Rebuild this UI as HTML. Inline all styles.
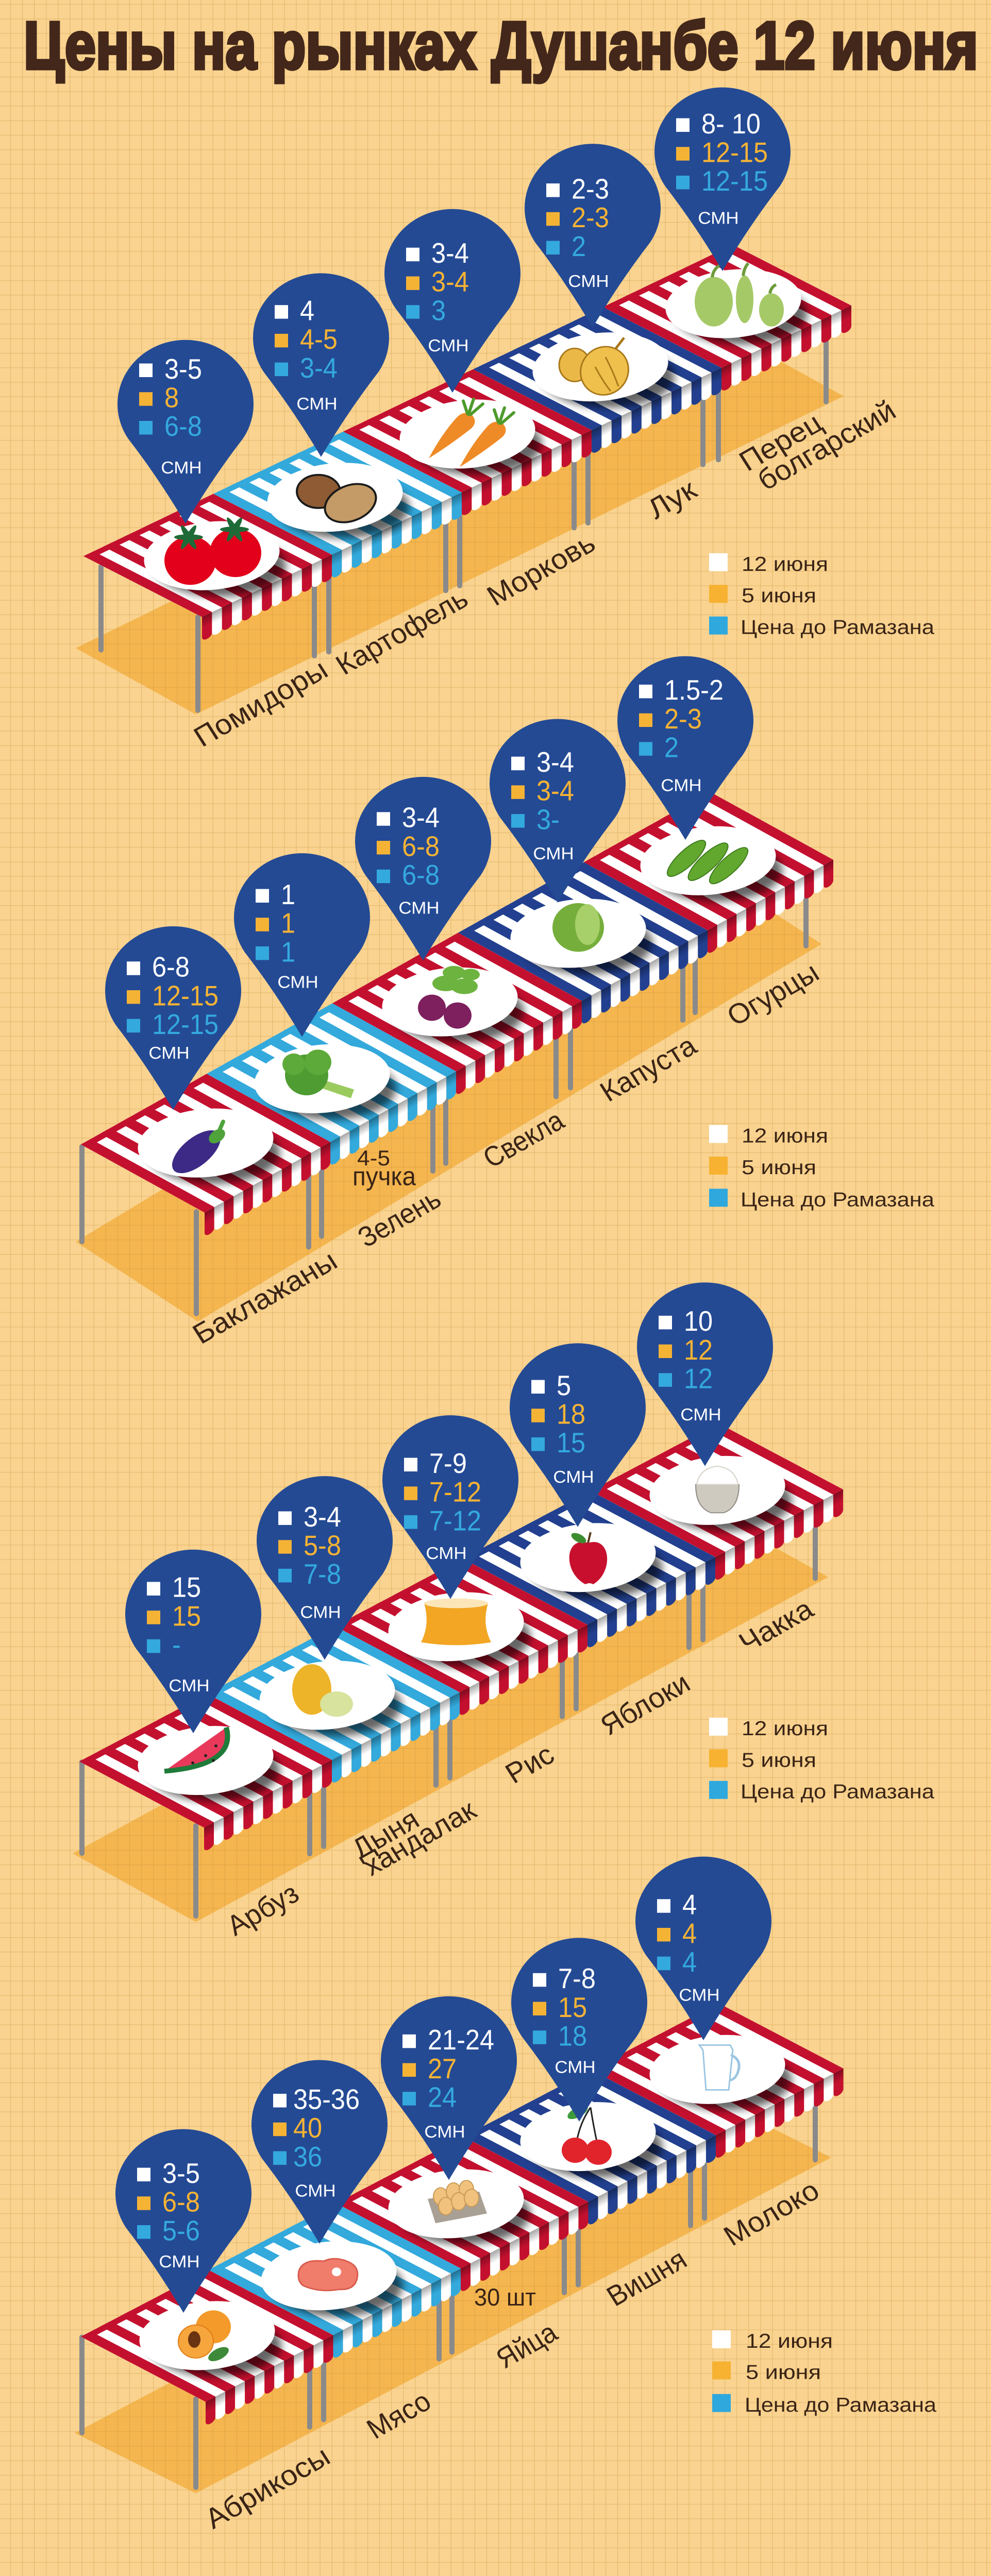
<!DOCTYPE html>
<html><head><meta charset="utf-8"><title>Цены на рынках Душанбе 12 июня</title>
<style>html,body{margin:0;padding:0;background:#F9D38F;width:100%;height:100%;overflow:hidden}svg{display:block;width:100vw;height:100vh}</style></head>
<body>
<svg xmlns="http://www.w3.org/2000/svg" viewBox="0 0 1923 5294" preserveAspectRatio="none" font-family="'Liberation Sans', sans-serif">
<defs>
 <pattern id="grid" x="19.8" y="8.3" width="23.1" height="29.87" patternUnits="userSpaceOnUse">
  <rect x="0" y="0" width="1.3" height="29.87" fill="#C58A3A" fill-opacity="0.33"/>
  <rect x="0" y="0" width="23.1" height="1.3" fill="#C58A3A" fill-opacity="0.33"/>
 </pattern>
 <filter id="blur" x="-40%" y="-40%" width="180%" height="180%"><feGaussianBlur stdDeviation="8"/></filter>
 <linearGradient id="dsh" x1="0" y1="0" x2="0" y2="1"><stop offset="0" stop-color="#000" stop-opacity="0.35"/><stop offset="1" stop-color="#000" stop-opacity="0"/></linearGradient>
 <g id="top">
  <rect width="1" height="1" fill="#fff"/>
  <rect x="0" width="0.078" height="1" fill="currentColor"/>
  <rect x="0.15385" width="0.078" height="1" fill="currentColor"/>
  <rect x="0.30769" width="0.078" height="1" fill="currentColor"/>
  <rect x="0.46154" width="0.078" height="1" fill="currentColor"/>
  <rect x="0.61538" width="0.078" height="1" fill="currentColor"/>
  <rect x="0.76923" width="0.078" height="1" fill="currentColor"/>
  <rect x="0.92308" width="0.07692" height="1" fill="currentColor"/>
  <rect width="1" height="0.05" fill="currentColor"/>
 </g>
 <g id="drape">
  <path d="M0,0H0.07692V42A0.03846,8,0,0,1,0,42Z" fill="currentColor"/>
  <path d="M0.07692,0H0.15385V42A0.03846,8,0,0,1,0.07692,42Z" fill="#fff"/>
  <path d="M0.15385,0H0.23077V42A0.03846,8,0,0,1,0.15385,42Z" fill="currentColor"/>
  <path d="M0.23077,0H0.30769V42A0.03846,8,0,0,1,0.23077,42Z" fill="#fff"/>
  <path d="M0.30769,0H0.38462V42A0.03846,8,0,0,1,0.30769,42Z" fill="currentColor"/>
  <path d="M0.38462,0H0.46154V42A0.03846,8,0,0,1,0.38462,42Z" fill="#fff"/>
  <path d="M0.46154,0H0.53846V42A0.03846,8,0,0,1,0.46154,42Z" fill="currentColor"/>
  <path d="M0.53846,0H0.61538V42A0.03846,8,0,0,1,0.53846,42Z" fill="#fff"/>
  <path d="M0.61538,0H0.69231V42A0.03846,8,0,0,1,0.61538,42Z" fill="currentColor"/>
  <path d="M0.69231,0H0.76923V42A0.03846,8,0,0,1,0.69231,42Z" fill="#fff"/>
  <path d="M0.76923,0H0.84615V42A0.03846,8,0,0,1,0.76923,42Z" fill="currentColor"/>
  <path d="M0.84615,0H0.92308V42A0.03846,8,0,0,1,0.84615,42Z" fill="#fff"/>
  <path d="M0.92308,0H1V42A0.03846,8,0,0,1,0.92308,42Z" fill="currentColor"/>
  <rect width="1" height="24" fill="url(#dsh)"/>
 </g>
 <path id="pin" d="M0,245 Q-52,152 -111,71 A132,132 0 1 1 111,71 Q52,152 0,245Z" fill="#244A94"/>
 <g id="plate">
  <ellipse cx="16" cy="20" rx="128" ry="64" fill="#000" opacity="0.6" filter="url(#blur)"/>
  <ellipse cx="0" cy="0" rx="132" ry="70" transform="rotate(-6)" fill="#fff"/>
 </g>
</defs>

<rect width="1923" height="5294" fill="#F9D38F"/>

<!-- floors -->
<g fill="#F5B64F">
 <polygon points="147,1332 380,1468 1637,814 1404,678"/>
 <polygon points="147,2552 384,2716 1594,1940 1357,1776"/>
 <polygon points="141,3809 380,3950 1607,3241 1368,3100"/>
 <polygon points="145,5000 380,5124 1613,4434 1378,4310"/>
</g>

<rect width="1923" height="5294" fill="url(#grid)"/>

<!-- title -->
<text x="46" y="141" font-size="138" font-weight="bold" fill="#43271A" stroke="#43271A" stroke-width="7" textLength="1852" lengthAdjust="spacingAndGlyphs">Цены на рынках Душанбе 12 июня</text>

<!-- legs -->
<g stroke="#8A8A8A" stroke-width="10" stroke-linecap="round" fill="none">
 <path d="M196,1164V1336 M384,1268V1460 M610,1168V1348 M638,1160V1340 M865,1034V1214 M892,1024V1204 M1114,905V1085 M1141,895V1075 M1364,775V955 M1394,765V945 M1603,646V826"/>
 <path d="M159,2356V2552 M381,2490V2700 M599,2383V2563 M624,2361V2541 M840,2227V2407 M865,2211V2391 M1079,2074V2254 M1107,2056V2236 M1325,1917V2097 M1349,1901V2081 M1564,1764V1944"/>
 <path d="M159,3621V3809 M380,3752V3938 M601,3630V3810 M628,3615V3795 M846,3489V3669 M873,3474V3654 M1091,3348V3528 M1118,3332V3512 M1337,3206V3386 M1364,3190V3370 M1582,3064V3244"/>
 <path d="M159,4803V5000 M380,4930V5112 M601,4808V4988 M628,4793V4973 M852,4668V4848 M877,4654V4834 M1095,4532V4712 M1122,4516V4696 M1340,4394V4574 M1367,4379V4559 M1582,4259V4439"/>
</g>

<!-- Section 1 tables -->
<use href="#top" transform="matrix(252,-128,230,125,1170,631)" style="color:#C4102F"/>
<use href="#drape" transform="matrix(252,-128,0,1,1400,756)" style="color:#C4102F"/>
<use href="#top" transform="matrix(252,-128,230,125,918,759)" style="color:#22408F"/>
<use href="#drape" transform="matrix(252,-128,0,1,1148,884)" style="color:#22408F"/>
<use href="#top" transform="matrix(252,-128,230,125,666,887)" style="color:#C4102F"/>
<use href="#drape" transform="matrix(252,-128,0,1,896,1012)" style="color:#C4102F"/>
<use href="#top" transform="matrix(252,-128,230,125,414,1015)" style="color:#33A9DC"/>
<use href="#drape" transform="matrix(252,-128,0,1,644,1140)" style="color:#33A9DC"/>
<use href="#top" transform="matrix(252,-128,230,125,162,1143)" style="color:#C4102F"/>
<use href="#drape" transform="matrix(252,-128,0,1,392,1268)" style="color:#C4102F"/>

<!-- Section 2 tables -->
<use href="#top" transform="matrix(244,-145,240,140,1133,1772)" style="color:#C4102F"/>
<use href="#drape" transform="matrix(244,-145,0,1,1373,1912)" style="color:#C4102F"/>
<use href="#top" transform="matrix(244,-145,240,140,889,1917)" style="color:#22408F"/>
<use href="#drape" transform="matrix(244,-145,0,1,1129,2057)" style="color:#22408F"/>
<use href="#top" transform="matrix(244,-145,240,140,645,2062)" style="color:#C4102F"/>
<use href="#drape" transform="matrix(244,-145,0,1,885,2202)" style="color:#C4102F"/>
<use href="#top" transform="matrix(244,-145,240,140,401,2207)" style="color:#33A9DC"/>
<use href="#drape" transform="matrix(244,-145,0,1,641,2347)" style="color:#33A9DC"/>
<use href="#top" transform="matrix(244,-145,240,140,157,2352)" style="color:#C4102F"/>
<use href="#drape" transform="matrix(244,-145,0,1,397,2492)" style="color:#C4102F"/>

<!-- Section 3 tables -->
<use href="#top" transform="matrix(248,-139,242,136,1146,3064)" style="color:#C4102F"/>
<use href="#drape" transform="matrix(248,-139,0,1,1388,3200)" style="color:#C4102F"/>
<use href="#top" transform="matrix(248,-139,242,136,898,3203)" style="color:#22408F"/>
<use href="#drape" transform="matrix(248,-139,0,1,1140,3339)" style="color:#22408F"/>
<use href="#top" transform="matrix(248,-139,242,136,650,3342)" style="color:#C4102F"/>
<use href="#drape" transform="matrix(248,-139,0,1,892,3478)" style="color:#C4102F"/>
<use href="#top" transform="matrix(248,-139,242,136,402,3481)" style="color:#33A9DC"/>
<use href="#drape" transform="matrix(248,-139,0,1,644,3617)" style="color:#33A9DC"/>
<use href="#top" transform="matrix(248,-139,242,136,154,3620)" style="color:#C4102F"/>
<use href="#drape" transform="matrix(248,-139,0,1,396,3756)" style="color:#C4102F"/>

<!-- Section 4 tables -->
<use href="#top" transform="matrix(247.5,-137,242,134,1147,4254)" style="color:#C4102F"/>
<use href="#drape" transform="matrix(247.5,-137,0,1,1389,4388)" style="color:#C4102F"/>
<use href="#top" transform="matrix(247.5,-137,242,134,899.5,4391)" style="color:#22408F"/>
<use href="#drape" transform="matrix(247.5,-137,0,1,1141.5,4525)" style="color:#22408F"/>
<use href="#top" transform="matrix(247.5,-137,242,134,652,4528)" style="color:#C4102F"/>
<use href="#drape" transform="matrix(247.5,-137,0,1,894,4662)" style="color:#C4102F"/>
<use href="#top" transform="matrix(247.5,-137,242,134,404.5,4665)" style="color:#33A9DC"/>
<use href="#drape" transform="matrix(247.5,-137,0,1,646.5,4799)" style="color:#33A9DC"/>
<use href="#top" transform="matrix(247.5,-137,242,134,157,4802)" style="color:#C4102F"/>
<use href="#drape" transform="matrix(247.5,-137,0,1,399,4936)" style="color:#C4102F"/>

<!-- plates -->
<use href="#plate" x="1423" y="624"/><use href="#plate" x="1165" y="754"/><use href="#plate" x="907" y="892"/><use href="#plate" x="650" y="1022"/><use href="#plate" x="411" y="1142"/>
<use href="#plate" x="1374" y="1769"/><use href="#plate" x="1122" y="1918"/><use href="#plate" x="873" y="2059"/><use href="#plate" x="625" y="2217"/><use href="#plate" x="399" y="2349"/>
<use href="#plate" x="1392" y="3063"/><use href="#plate" x="1141" y="3201"/><use href="#plate" x="885" y="3343"/><use href="#plate" x="635" y="3484"/><use href="#plate" x="399" y="3618"/>
<use href="#plate" x="1392" y="4253"/><use href="#plate" x="1141" y="4391"/><use href="#plate" x="885" y="4529"/><use href="#plate" x="638" y="4677"/><use href="#plate" x="402" y="4800"/>

<!-- food S1 -->
<g transform="translate(411,1142)">
 <circle cx="-42" cy="10" r="50" fill="#E2001A"/><circle cx="46" cy="-6" r="50" fill="#E2001A"/>
 <g fill="#1E6B37">
  <ellipse cx="-45" cy="-38" rx="28" ry="6"/><ellipse cx="-45" cy="-38" rx="28" ry="6" transform="rotate(60 -45 -38)"/><ellipse cx="-45" cy="-38" rx="28" ry="6" transform="rotate(-60 -45 -38)"/>
  <ellipse cx="44" cy="-54" rx="28" ry="6"/><ellipse cx="44" cy="-54" rx="28" ry="6" transform="rotate(60 44 -54)"/><ellipse cx="44" cy="-54" rx="28" ry="6" transform="rotate(-60 44 -54)"/>
 </g>
</g>
<g transform="translate(650,1022)" stroke="#1a1a1a" stroke-width="4">
 <ellipse cx="-32" cy="-12" rx="42" ry="34" fill="#8E5B34"/>
 <ellipse cx="30" cy="12" rx="52" ry="36" transform="rotate(-25 30 12)" fill="#C49A66"/>
</g>
<g transform="translate(907,892)">
 <path d="M-75,50 Q-50,0 -20,-35 Q-5,-50 10,-38 Q20,-25 8,-12 Q-30,20 -75,50Z" fill="#EF8B27"/>
 <path d="M2,-40 L12,-72 M6,-40 L30,-62 M0,-42 L-8,-68" stroke="#4E9A2B" stroke-width="6" stroke-linecap="round"/>
 <g transform="translate(60,18)">
  <path d="M-75,50 Q-50,0 -20,-35 Q-5,-50 10,-38 Q20,-25 8,-12 Q-30,20 -75,50Z" fill="#EF8B27"/>
  <path d="M2,-40 L12,-72 M6,-40 L30,-62 M0,-42 L-8,-68" stroke="#4E9A2B" stroke-width="6" stroke-linecap="round"/>
 </g>
</g>
<g transform="translate(1165,754)" stroke="#A8781A" stroke-width="3">
 <ellipse cx="-50" cy="-4" rx="30" ry="34" fill="#EAB847"/>
 <ellipse cx="8" cy="8" rx="46" ry="50" transform="rotate(20 8 8)" fill="#EFC04C"/>
 <path d="M30,-38 L46,-60" fill="none" stroke-width="5"/>
 <path d="M-10,0 Q5,30 20,50 M10,-20 Q25,10 35,40" fill="none"/>
</g>
<g transform="translate(1422,625)" fill="#A6C967" stroke="#fff" stroke-width="2">
 <ellipse cx="-37" cy="-5" rx="38" ry="52"/>
 <ellipse cx="23" cy="-10" rx="18" ry="50"/>
 <ellipse cx="75" cy="12" rx="25" ry="35"/>
 <path d="M-40,-55 Q-38,-72 -25,-80 M20,-58 Q22,-75 30,-84 M72,-22 Q74,-35 84,-40" fill="none" stroke="#6C9B3A" stroke-width="6"/>
</g>

<!-- food S2 -->
<g transform="translate(399,2349)">
 <ellipse cx="-18" cy="18" rx="58" ry="28" transform="rotate(-42 -18 18)" fill="#3C2A86"/>
 <ellipse cx="22" cy="-14" rx="18" ry="12" transform="rotate(-40 22 -14)" fill="#4EA33A"/>
 <path d="M22,-14 L34,-44" stroke="#4EA33A" stroke-width="8" stroke-linecap="round"/>
</g>
<g transform="translate(625,2217)">
 <path d="M-5,0 L62,22 L56,40 L-10,16Z" fill="#9BCB5F"/>
 <circle cx="-30" cy="-8" r="42" fill="#4F9C32"/><circle cx="-8" cy="-34" r="26" fill="#5DAA3A"/><circle cx="-55" cy="-30" r="22" fill="#5DAA3A"/>
</g>
<g transform="translate(873,2059)">
 <g fill="#6DB33F"><ellipse cx="-8" cy="-38" rx="26" ry="16"/><ellipse cx="28" cy="-32" rx="26" ry="16"/><ellipse cx="8" cy="-60" rx="22" ry="14"/><ellipse cx="40" cy="-56" rx="18" ry="12"/></g>
 <circle cx="-35" cy="12" r="27" fill="#7E1F5E"/><circle cx="15" cy="28" r="27" fill="#7E1F5E"/>
</g>
<g transform="translate(1122,1918)">
 <circle cx="0" cy="-12" r="50" fill="#76AE3B"/><ellipse cx="18" cy="-18" rx="24" ry="42" fill="#A7D06A"/>
</g>
<g transform="translate(1374,1769)" fill="#62A82E" stroke="#3D7A1C" stroke-width="2">
 <ellipse cx="-42" cy="-5" rx="50" ry="16" transform="rotate(-45 -42 -5)"/>
 <ellipse cx="0" cy="2" rx="52" ry="16" transform="rotate(-45 0 2)"/>
 <ellipse cx="40" cy="10" rx="50" ry="16" transform="rotate(-45 40 10)"/>
</g>

<!-- food S3 -->
<g transform="translate(399,3618)">
 <path d="M-80,22 L40,-68 Q60,10 -80,22Z" fill="#E8395B"/>
 <path d="M40,-68 Q60,10 -80,22" fill="none" stroke="#1E7B3A" stroke-width="10"/>
 <g fill="#222"><circle cx="0" cy="-10" r="3"/><circle cx="-25" cy="5" r="3"/><circle cx="20" cy="-30" r="3"/><circle cx="15" cy="0" r="3"/></g>
</g>
<g transform="translate(635,3484)">
 <ellipse cx="-30" cy="-12" rx="38" ry="52" fill="#EDB42A"/>
 <ellipse cx="18" cy="18" rx="32" ry="26" fill="#D8E39D"/>
</g>
<g transform="translate(885,3343)">
 <path d="M-62,-48 Q-50,-5 -68,32 Q0,44 68,32 Q50,-5 62,-48Z" fill="#F2A623"/>
 <ellipse cx="0" cy="-48" rx="62" ry="10" fill="#FCE6B8"/>
</g>
<g transform="translate(1141,3201)">
 <path d="M0,-30 C-45,-45 -50,30 -5,55 C0,52 5,52 10,55 C50,30 45,-45 0,-30Z" fill="#C8102E"/>
 <ellipse cx="-18" cy="-40" rx="16" ry="8" fill="#3C8D2F" transform="rotate(30 -18 -40)"/>
 <path d="M0,-30 L5,-52" stroke="#5B3A1A" stroke-width="4"/>
</g>
<g transform="translate(1392,3063)">
 <path d="M-42,-12 Q-42,35 -12,46 L12,46 Q42,35 42,-12Z" fill="#CFCAC0" stroke="#8F8A82" stroke-width="2"/>
 <path d="M-40,-12 Q-35,-45 0,-50 Q35,-45 40,-12Z" fill="#fff" stroke="#D5D0C8" stroke-width="2"/>
</g>

<!-- food S4 -->
<g transform="translate(402,4800)">
 <ellipse cx="22" cy="38" rx="22" ry="11" fill="#3E8A3A" transform="rotate(-30 22 38)"/>
 <circle cx="12" cy="-18" r="34" fill="#F39A2A"/>
 <circle cx="-22" cy="12" r="34" fill="#F6A63C" stroke="#E07B14" stroke-width="2"/>
 <ellipse cx="-25" cy="8" rx="12" ry="17" fill="#6A3412"/>
</g>
<g transform="translate(638,4677)">
 <path d="M-58,-10 Q-50,-35 -10,-30 Q10,-40 35,-30 Q60,-20 55,5 Q50,30 20,28 Q-20,35 -50,20 Q-62,10 -58,-10Z" fill="#F07D6C" stroke="#D95B4C" stroke-width="3"/>
 <circle cx="15" cy="-8" r="9" fill="#fff"/>
</g>
<g transform="translate(885,4529)">
 <path d="M-55,-10 L45,-25 L60,20 L-40,40Z" fill="#A9A095"/>
 <g fill="#F0C27E" stroke="#C89A55" stroke-width="2">
  <ellipse cx="-30" cy="-15" rx="14" ry="18"/><ellipse cx="-5" cy="-25" rx="14" ry="18"/><ellipse cx="20" cy="-30" rx="14" ry="18"/>
  <ellipse cx="-20" cy="5" rx="14" ry="18"/><ellipse cx="5" cy="-5" rx="14" ry="18"/><ellipse cx="30" cy="-12" rx="14" ry="18"/>
 </g>
</g>
<g transform="translate(1141,4391)">
 <path d="M-22,10 Q-15,-30 5,-60 M18,15 Q10,-25 5,-60" stroke="#222" stroke-width="3" fill="none"/>
 <ellipse cx="-20" cy="-50" rx="22" ry="10" fill="#3D9A3A" transform="rotate(-30 -20 -50)"/>
 <circle cx="-25" cy="28" r="26" fill="#E1242C"/><circle cx="20" cy="32" r="26" fill="#E1242C"/>
</g>
<g transform="translate(1392,4253)">
 <path d="M-35,-50 L25,-50 L30,-40 L22,42 L-22,42 L-28,-40Z" fill="#fff" stroke="#9CC6E2" stroke-width="3"/>
 <path d="M26,-30 Q48,-20 40,5 Q35,20 25,22" fill="none" stroke="#9CC6E2" stroke-width="5"/>
</g>

<!-- pins -->
<g font-size="58">
<!-- S1 -->
<use href="#pin" x="1402" y="312"/>
<rect x="1312" y="243" width="26" height="28" fill="#fff"/><rect x="1312" y="302" width="26" height="28" fill="#F5B335"/><rect x="1312" y="361" width="26" height="28" fill="#34A9DE"/>
<text transform="translate(1361,274) scale(0.87,1)" fill="#fff">8- 10</text><text transform="translate(1361,333) scale(0.87,1)" fill="#F5B335">12-15</text><text transform="translate(1361,392) scale(0.87,1)" fill="#34A9DE">12-15</text>
<text x="1394" y="460" font-size="35" text-anchor="middle" fill="#fff">СМН</text>

<use href="#pin" x="1150" y="428"/>
<rect x="1060" y="377" width="26" height="28" fill="#fff"/><rect x="1060" y="436" width="26" height="28" fill="#F5B335"/><rect x="1060" y="495" width="26" height="28" fill="#34A9DE"/>
<text transform="translate(1109,408) scale(0.87,1)" fill="#fff">2-3</text><text transform="translate(1109,467) scale(0.87,1)" fill="#F5B335">2-3</text><text transform="translate(1109,526) scale(0.87,1)" fill="#34A9DE">2</text>
<text x="1142" y="590" font-size="35" text-anchor="middle" fill="#fff">СМН</text>

<use href="#pin" x="878" y="562"/>
<rect x="788" y="509" width="26" height="28" fill="#fff"/><rect x="788" y="568" width="26" height="28" fill="#F5B335"/><rect x="788" y="627" width="26" height="28" fill="#34A9DE"/>
<text transform="translate(837,540) scale(0.87,1)" fill="#fff">3-4</text><text transform="translate(837,599) scale(0.87,1)" fill="#F5B335">3-4</text><text transform="translate(837,658) scale(0.87,1)" fill="#34A9DE">3</text>
<text x="870" y="722" font-size="35" text-anchor="middle" fill="#fff">СМН</text>

<use href="#pin" x="623" y="694"/>
<rect x="533" y="627" width="26" height="28" fill="#fff"/><rect x="533" y="686" width="26" height="28" fill="#F5B335"/><rect x="533" y="745" width="26" height="28" fill="#34A9DE"/>
<text transform="translate(582,658) scale(0.87,1)" fill="#fff">4</text><text transform="translate(582,717) scale(0.87,1)" fill="#F5B335">4-5</text><text transform="translate(582,776) scale(0.87,1)" fill="#34A9DE">3-4</text>
<text x="615" y="842" font-size="35" text-anchor="middle" fill="#fff">СМН</text>

<use href="#pin" x="360" y="831"/>
<rect x="270" y="747" width="26" height="28" fill="#fff"/><rect x="270" y="806" width="26" height="28" fill="#F5B335"/><rect x="270" y="865" width="26" height="28" fill="#34A9DE"/>
<text transform="translate(319,778) scale(0.87,1)" fill="#fff">3-5</text><text transform="translate(319,837) scale(0.87,1)" fill="#F5B335">8</text><text transform="translate(319,896) scale(0.87,1)" fill="#34A9DE">6-8</text>
<text x="352" y="973" font-size="35" text-anchor="middle" fill="#fff">СМН</text>

<!-- S2 -->
<use href="#pin" x="1330" y="1481"/>
<rect x="1240" y="1407" width="26" height="28" fill="#fff"/><rect x="1240" y="1466" width="26" height="28" fill="#F5B335"/><rect x="1240" y="1525" width="26" height="28" fill="#34A9DE"/>
<text transform="translate(1289,1438) scale(0.87,1)" fill="#fff">1.5-2</text><text transform="translate(1289,1497) scale(0.87,1)" fill="#F5B335">2-3</text><text transform="translate(1289,1556) scale(0.87,1)" fill="#34A9DE">2</text>
<text x="1322" y="1626" font-size="35" text-anchor="middle" fill="#fff">СМН</text>

<use href="#pin" x="1082" y="1610"/>
<rect x="992" y="1555" width="26" height="28" fill="#fff"/><rect x="992" y="1614" width="26" height="28" fill="#F5B335"/><rect x="992" y="1673" width="26" height="28" fill="#34A9DE"/>
<text transform="translate(1041,1586) scale(0.87,1)" fill="#fff">3-4</text><text transform="translate(1041,1645) scale(0.87,1)" fill="#F5B335">3-4</text><text transform="translate(1041,1704) scale(0.87,1)" fill="#34A9DE">3-</text>
<text x="1074" y="1766" font-size="35" text-anchor="middle" fill="#fff">СМН</text>

<use href="#pin" x="821" y="1729"/>
<rect x="731" y="1669" width="26" height="28" fill="#fff"/><rect x="731" y="1728" width="26" height="28" fill="#F5B335"/><rect x="731" y="1787" width="26" height="28" fill="#34A9DE"/>
<text transform="translate(780,1700) scale(0.87,1)" fill="#fff">3-4</text><text transform="translate(780,1759) scale(0.87,1)" fill="#F5B335">6-8</text><text transform="translate(780,1818) scale(0.87,1)" fill="#34A9DE">6-8</text>
<text x="813" y="1878" font-size="35" text-anchor="middle" fill="#fff">СМН</text>

<use href="#pin" x="586" y="1886"/>
<rect x="496" y="1827" width="26" height="28" fill="#fff"/><rect x="496" y="1886" width="26" height="28" fill="#F5B335"/><rect x="496" y="1945" width="26" height="28" fill="#34A9DE"/>
<text transform="translate(545,1858) scale(0.87,1)" fill="#fff">1</text><text transform="translate(545,1917) scale(0.87,1)" fill="#F5B335">1</text><text transform="translate(545,1976) scale(0.87,1)" fill="#34A9DE">1</text>
<text x="578" y="2030" font-size="35" text-anchor="middle" fill="#fff">СМН</text>

<use href="#pin" x="336" y="2036"/>
<rect x="246" y="1976" width="26" height="28" fill="#fff"/><rect x="246" y="2035" width="26" height="28" fill="#F5B335"/><rect x="246" y="2094" width="26" height="28" fill="#34A9DE"/>
<text transform="translate(295,2007) scale(0.87,1)" fill="#fff">6-8</text><text transform="translate(295,2066) scale(0.87,1)" fill="#F5B335">12-15</text><text transform="translate(295,2125) scale(0.87,1)" fill="#34A9DE">12-15</text>
<text x="328" y="2176" font-size="35" text-anchor="middle" fill="#fff">СМН</text>

<!-- S3 -->
<use href="#pin" x="1368" y="2768"/>
<rect x="1278" y="2704" width="26" height="28" fill="#fff"/><rect x="1278" y="2763" width="26" height="28" fill="#F5B335"/><rect x="1278" y="2822" width="26" height="28" fill="#34A9DE"/>
<text transform="translate(1327,2735) scale(0.87,1)" fill="#fff">10</text><text transform="translate(1327,2794) scale(0.87,1)" fill="#F5B335">12</text><text transform="translate(1327,2853) scale(0.87,1)" fill="#34A9DE">12</text>
<text x="1360" y="2919" font-size="35" text-anchor="middle" fill="#fff">СМН</text>

<use href="#pin" x="1121" y="2893"/>
<rect x="1031" y="2836" width="26" height="28" fill="#fff"/><rect x="1031" y="2895" width="26" height="28" fill="#F5B335"/><rect x="1031" y="2954" width="26" height="28" fill="#34A9DE"/>
<text transform="translate(1080,2867) scale(0.87,1)" fill="#fff">5</text><text transform="translate(1080,2926) scale(0.87,1)" fill="#F5B335">18</text><text transform="translate(1080,2985) scale(0.87,1)" fill="#34A9DE">15</text>
<text x="1113" y="3047" font-size="35" text-anchor="middle" fill="#fff">СМН</text>

<use href="#pin" x="874" y="3041"/>
<rect x="784" y="2996" width="26" height="28" fill="#fff"/><rect x="784" y="3055" width="26" height="28" fill="#F5B335"/><rect x="784" y="3114" width="26" height="28" fill="#34A9DE"/>
<text transform="translate(833,3027) scale(0.87,1)" fill="#fff">7-9</text><text transform="translate(833,3086) scale(0.87,1)" fill="#F5B335">7-12</text><text transform="translate(833,3145) scale(0.87,1)" fill="#34A9DE">7-12</text>
<text x="866" y="3204" font-size="35" text-anchor="middle" fill="#fff">СМН</text>

<use href="#pin" x="630" y="3166"/>
<rect x="540" y="3106" width="26" height="28" fill="#fff"/><rect x="540" y="3165" width="26" height="28" fill="#F5B335"/><rect x="540" y="3224" width="26" height="28" fill="#34A9DE"/>
<text transform="translate(589,3137) scale(0.87,1)" fill="#fff">3-4</text><text transform="translate(589,3196) scale(0.87,1)" fill="#F5B335">5-8</text><text transform="translate(589,3255) scale(0.87,1)" fill="#34A9DE">7-8</text>
<text x="622" y="3325" font-size="35" text-anchor="middle" fill="#fff">СМН</text>

<use href="#pin" x="375" y="3317"/>
<rect x="285" y="3251" width="26" height="28" fill="#fff"/><rect x="285" y="3310" width="26" height="28" fill="#F5B335"/><rect x="285" y="3369" width="26" height="28" fill="#34A9DE"/>
<text transform="translate(334,3282) scale(0.87,1)" fill="#fff">15</text><text transform="translate(334,3341) scale(0.87,1)" fill="#F5B335">15</text><text transform="translate(334,3400) scale(0.87,1)" fill="#34A9DE">-</text>
<text x="367" y="3476" font-size="35" text-anchor="middle" fill="#fff">СМН</text>

<!-- S4 -->
<use href="#pin" x="1365" y="3948"/>
<rect x="1275" y="3903" width="26" height="28" fill="#fff"/><rect x="1275" y="3962" width="26" height="28" fill="#F5B335"/><rect x="1275" y="4021" width="26" height="28" fill="#34A9DE"/>
<text transform="translate(1324,3934) scale(0.87,1)" fill="#fff">4</text><text transform="translate(1324,3993) scale(0.87,1)" fill="#F5B335">4</text><text transform="translate(1324,4052) scale(0.87,1)" fill="#34A9DE">4</text>
<text x="1357" y="4112" font-size="35" text-anchor="middle" fill="#fff">СМН</text>

<use href="#pin" x="1124" y="4115"/>
<rect x="1034" y="4055" width="26" height="28" fill="#fff"/><rect x="1034" y="4114" width="26" height="28" fill="#F5B335"/><rect x="1034" y="4173" width="26" height="28" fill="#34A9DE"/>
<text transform="translate(1083,4086) scale(0.87,1)" fill="#fff">7-8</text><text transform="translate(1083,4145) scale(0.87,1)" fill="#F5B335">15</text><text transform="translate(1083,4204) scale(0.87,1)" fill="#34A9DE">18</text>
<text x="1116" y="4260" font-size="35" text-anchor="middle" fill="#fff">СМН</text>

<use href="#pin" x="871" y="4235"/>
<rect x="781" y="4181" width="26" height="28" fill="#fff"/><rect x="781" y="4240" width="26" height="28" fill="#F5B335"/><rect x="781" y="4299" width="26" height="28" fill="#34A9DE"/>
<text transform="translate(830,4212) scale(0.87,1)" fill="#fff">21-24</text><text transform="translate(830,4271) scale(0.87,1)" fill="#F5B335">27</text><text transform="translate(830,4330) scale(0.87,1)" fill="#34A9DE">24</text>
<text x="863" y="4393" font-size="35" text-anchor="middle" fill="#fff">СМН</text>

<use href="#pin" x="620" y="4366"/>
<rect x="530" y="4303" width="26" height="28" fill="#fff"/><rect x="530" y="4362" width="26" height="28" fill="#F5B335"/><rect x="530" y="4421" width="26" height="28" fill="#34A9DE"/>
<text transform="translate(569,4334) scale(0.87,1)" fill="#fff">35-36</text><text transform="translate(569,4393) scale(0.87,1)" fill="#F5B335">40</text><text transform="translate(569,4452) scale(0.87,1)" fill="#34A9DE">36</text>
<text x="612" y="4514" font-size="35" text-anchor="middle" fill="#fff">СМН</text>

<use href="#pin" x="356" y="4508"/>
<rect x="266" y="4455" width="26" height="28" fill="#fff"/><rect x="266" y="4514" width="26" height="28" fill="#F5B335"/><rect x="266" y="4573" width="26" height="28" fill="#34A9DE"/>
<text transform="translate(315,4486) scale(0.87,1)" fill="#fff">3-5</text><text transform="translate(315,4545) scale(0.87,1)" fill="#F5B335">6-8</text><text transform="translate(315,4604) scale(0.87,1)" fill="#34A9DE">5-6</text>
<text x="348" y="4660" font-size="35" text-anchor="middle" fill="#fff">СМН</text>
</g>

<!-- labels -->
<g fill="#3A2416" font-size="58" text-anchor="middle">
 <text transform="translate(516,1462) rotate(-31)" textLength="290" lengthAdjust="spacingAndGlyphs">Помидоры</text>
 <text transform="translate(790,1315) rotate(-31)" textLength="286" lengthAdjust="spacingAndGlyphs">Картофель</text>
 <text transform="translate(1060,1187) rotate(-31)" textLength="232" lengthAdjust="spacingAndGlyphs">Морковь</text>
 <text transform="translate(1314,1043) rotate(-31)" textLength="98" lengthAdjust="spacingAndGlyphs">Лук</text>
 <text transform="translate(1525,925) rotate(-31)" textLength="175" lengthAdjust="spacingAndGlyphs">Перец</text>
 <text transform="translate(1614,932) rotate(-31)" textLength="300" lengthAdjust="spacingAndGlyphs">болгарский</text>

 <text transform="translate(524,2683) rotate(-31)" textLength="314" lengthAdjust="spacingAndGlyphs">Баклажаны</text>
 <text transform="translate(785,2520) rotate(-31)" textLength="175" lengthAdjust="spacingAndGlyphs">Зелень</text>
 <text transform="translate(1026,2358) rotate(-31)" textLength="170" lengthAdjust="spacingAndGlyphs">Свекла</text>
 <text transform="translate(1268,2213) rotate(-31)" textLength="205" lengthAdjust="spacingAndGlyphs">Капуста</text>
 <text transform="translate(1510,2060) rotate(-31)" textLength="195" lengthAdjust="spacingAndGlyphs">Огурцы</text>

 <text transform="translate(520,3941) rotate(-31)" textLength="150" lengthAdjust="spacingAndGlyphs">Арбуз</text>
 <text transform="translate(758,3786) rotate(-31)" textLength="139" lengthAdjust="spacingAndGlyphs">Дыня</text>
 <text transform="translate(824,3794) rotate(-31)" textLength="243" lengthAdjust="spacingAndGlyphs">хандалак</text>
 <text transform="translate(1038,3642) rotate(-31)" textLength="97" lengthAdjust="spacingAndGlyphs">Рис</text>
 <text transform="translate(1262,3519) rotate(-31)" textLength="190" lengthAdjust="spacingAndGlyphs">Яблоки</text>
 <text transform="translate(1516,3358) rotate(-31)" textLength="155" lengthAdjust="spacingAndGlyphs">Чакка</text>

 <text transform="translate(529,5129) rotate(-31)" textLength="270" lengthAdjust="spacingAndGlyphs">Абрикосы</text>
 <text transform="translate(784,4980) rotate(-31)" textLength="132" lengthAdjust="spacingAndGlyphs">Мясо</text>
 <text transform="translate(1032,4837) rotate(-31)" textLength="125" lengthAdjust="spacingAndGlyphs">Яйца</text>
 <text transform="translate(1265,4698) rotate(-31)" textLength="168" lengthAdjust="spacingAndGlyphs">Вишня</text>
 <text transform="translate(1507,4565) rotate(-31)" textLength="203" lengthAdjust="spacingAndGlyphs">Молоко</text>
</g>
<g fill="#3A2416">
 <text x="693" y="2395" font-size="44" textLength="64" lengthAdjust="spacingAndGlyphs">4-5</text>
 <text x="684" y="2436" font-size="54" textLength="123" lengthAdjust="spacingAndGlyphs">пучка</text>
 <text x="920" y="4738" font-size="50" textLength="120" lengthAdjust="spacingAndGlyphs">30 шт</text>
</g>

<!-- legends -->
<g font-size="41" fill="#3A2416">
 <rect x="1376" y="1137" width="36" height="37" fill="#fff"/><rect x="1376" y="1202" width="36" height="37" fill="#F7B232"/><rect x="1376" y="1267" width="36" height="37" fill="#2FA8DE"/>
 <text x="1439" y="1173" textLength="168" lengthAdjust="spacingAndGlyphs">12 июня</text><text x="1439" y="1238" textLength="145" lengthAdjust="spacingAndGlyphs">5 июня</text><text x="1437" y="1303" textLength="376" lengthAdjust="spacingAndGlyphs">Цена до Рамазана</text>

 <rect x="1376" y="2312" width="36" height="37" fill="#fff"/><rect x="1376" y="2377" width="36" height="37" fill="#F7B232"/><rect x="1376" y="2443" width="36" height="37" fill="#2FA8DE"/>
 <text x="1439" y="2348" textLength="168" lengthAdjust="spacingAndGlyphs">12 июня</text><text x="1439" y="2413" textLength="145" lengthAdjust="spacingAndGlyphs">5 июня</text><text x="1437" y="2479" textLength="376" lengthAdjust="spacingAndGlyphs">Цена до Рамазана</text>

 <rect x="1376" y="3530" width="36" height="37" fill="#fff"/><rect x="1376" y="3595" width="36" height="37" fill="#F7B232"/><rect x="1376" y="3660" width="36" height="37" fill="#2FA8DE"/>
 <text x="1439" y="3566" textLength="168" lengthAdjust="spacingAndGlyphs">12 июня</text><text x="1439" y="3631" textLength="145" lengthAdjust="spacingAndGlyphs">5 июня</text><text x="1437" y="3696" textLength="376" lengthAdjust="spacingAndGlyphs">Цена до Рамазана</text>

 <rect x="1382" y="4789" width="36" height="37" fill="#fff"/><rect x="1382" y="4853" width="36" height="37" fill="#F7B232"/><rect x="1382" y="4920" width="36" height="37" fill="#2FA8DE"/>
 <text x="1447" y="4825" textLength="169" lengthAdjust="spacingAndGlyphs">12 июня</text><text x="1447" y="4889" textLength="146" lengthAdjust="spacingAndGlyphs">5 июня</text><text x="1445" y="4956" textLength="372" lengthAdjust="spacingAndGlyphs">Цена до Рамазана</text>
</g>
</svg>
</body></html>
